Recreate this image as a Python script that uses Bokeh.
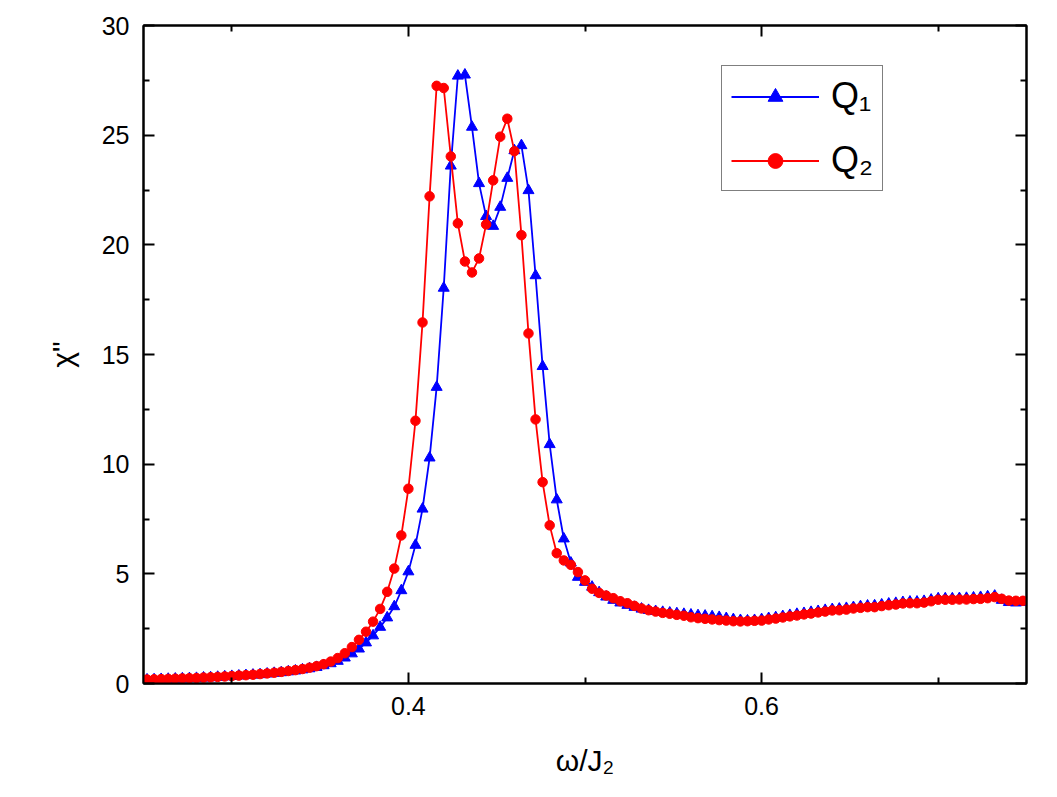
from bokeh.plotting import figure
from bokeh.models import LinearAxis, Range1d, FixedTicker, Legend
from bokeh.embed import file_html
from bokeh.resources import INLINE

omega = [0.252, 0.256, 0.260, 0.264, 0.268, 0.272, 0.276, 0.280, 0.284, 0.288,
         0.292, 0.296, 0.300, 0.304, 0.308, 0.312, 0.316, 0.320, 0.324, 0.328,
         0.332, 0.336, 0.340, 0.344, 0.348, 0.352, 0.356, 0.360, 0.364, 0.368,
         0.372, 0.376, 0.380, 0.384, 0.388, 0.392, 0.396, 0.400, 0.404, 0.408,
         0.412, 0.416, 0.420, 0.424, 0.428, 0.432, 0.436, 0.440, 0.444, 0.448,
         0.452, 0.456, 0.460, 0.464, 0.468, 0.472, 0.476, 0.480, 0.484, 0.488,
         0.492, 0.496, 0.500, 0.504, 0.508, 0.512, 0.516, 0.520, 0.524, 0.528,
         0.532, 0.536, 0.540, 0.544, 0.548, 0.552, 0.556, 0.560, 0.564, 0.568,
         0.572, 0.576, 0.580, 0.584, 0.588, 0.592, 0.596, 0.600, 0.604, 0.608,
         0.612, 0.616, 0.620, 0.624, 0.628, 0.632, 0.636, 0.640, 0.644, 0.648,
         0.652, 0.656, 0.660, 0.664, 0.668, 0.672, 0.676, 0.680, 0.684, 0.688,
         0.692, 0.696, 0.700, 0.704, 0.708, 0.712, 0.716, 0.720, 0.724, 0.728,
         0.732, 0.736, 0.740, 0.744, 0.748]

chi_q2 = [0.18, 0.19, 0.20, 0.21, 0.22, 0.23, 0.24, 0.25, 0.27, 0.28,
          0.30, 0.32, 0.34, 0.36, 0.38, 0.40, 0.43, 0.46, 0.49, 0.53,
          0.57, 0.61, 0.66, 0.72, 0.79, 0.88, 1.00, 1.16, 1.38, 1.66,
          1.99, 2.36, 2.82, 3.40, 4.18, 5.24, 6.75, 8.88, 11.98, 16.46,
          22.21, 27.25, 27.15, 24.03, 20.98, 19.24, 18.74, 19.38, 20.93, 22.94,
          24.93, 25.75, 24.27, 20.44, 15.96, 12.04, 9.18, 7.21, 5.94, 5.61,
          5.41, 5.08, 4.70, 4.32, 4.13, 4.01, 3.89, 3.75, 3.66, 3.54,
          3.42, 3.34, 3.28, 3.22, 3.18, 3.13, 3.09, 3.02, 2.98, 2.95,
          2.92, 2.89, 2.87, 2.84, 2.83, 2.84, 2.86, 2.87, 2.92, 2.96,
          3.01, 3.06, 3.10, 3.15, 3.19, 3.24, 3.28, 3.33, 3.34, 3.37,
          3.42, 3.45, 3.48, 3.48, 3.53, 3.57, 3.60, 3.65, 3.66, 3.66,
          3.69, 3.75, 3.82, 3.82, 3.82, 3.83, 3.83, 3.85, 3.86, 3.89,
          3.94, 3.86, 3.78, 3.77, 3.77]

chi_q1 = [0.17, 0.18, 0.19, 0.20, 0.21, 0.22, 0.23, 0.24, 0.26, 0.27,
          0.29, 0.31, 0.33, 0.35, 0.37, 0.39, 0.41, 0.44, 0.47, 0.50,
          0.54, 0.58, 0.63, 0.68, 0.74, 0.82, 0.91, 1.02, 1.17, 1.36,
          1.58, 1.86, 2.18, 2.57, 3.00, 3.51, 4.24, 5.10, 6.31, 7.96,
          10.29, 13.51, 18.03, 23.60, 27.70, 27.75, 25.37, 22.80, 21.30, 20.85,
          21.72, 23.04, 24.30, 24.53, 22.48, 18.60, 14.46, 10.90, 8.38, 6.60,
          5.50, 4.85, 4.62, 4.40, 4.15, 3.95, 3.80, 3.68, 3.57, 3.48,
          3.40, 3.34, 3.29, 3.25, 3.22, 3.19, 3.16, 3.13, 3.10, 3.08,
          3.05, 3.02, 2.97, 2.92, 2.88, 2.86, 2.88, 2.92, 2.97, 3.01,
          3.06, 3.11, 3.16, 3.20, 3.25, 3.29, 3.34, 3.38, 3.40, 3.43,
          3.47, 3.51, 3.54, 3.55, 3.59, 3.63, 3.66, 3.70, 3.72, 3.72,
          3.75, 3.81, 3.87, 3.87, 3.87, 3.88, 3.89, 3.91, 3.93, 3.96,
          3.99, 3.80, 3.70, 3.68, 3.70]

x_major = [0.4, 0.6]
x_minor = [0.3, 0.5, 0.7]
y_major = [0, 5, 10, 15, 20, 25, 30]
y_minor = [2.5, 7.5, 12.5, 17.5, 22.5, 27.5]

FONT = "Liberation Sans"

p = figure(width=1040, height=780, output_backend="svg", toolbar_location=None,
           x_range=Range1d(0.25, 0.75), y_range=Range1d(0, 30),
           min_border_left=143, min_border_top=25, min_border_right=14,
           min_border_bottom=97)
p.background_fill_color = "white"
p.border_fill_color = "white"
p.outline_line_color = "black"
p.outline_line_width = 2
p.xgrid.visible = False
p.ygrid.visible = False


def style_axis(ax, ticks_major, ticks_minor, show_labels):
    ax.ticker = FixedTicker(ticks=ticks_major, minor_ticks=ticks_minor)
    ax.axis_line_width = 2
    ax.axis_line_color = "black"
    ax.major_tick_in = 11
    ax.major_tick_out = 0
    ax.minor_tick_in = 6
    ax.minor_tick_out = 0
    ax.major_tick_line_width = 2
    ax.minor_tick_line_width = 2
    ax.major_tick_line_color = "black"
    ax.minor_tick_line_color = "black"
    if show_labels:
        ax.major_label_text_font = FONT
        ax.major_label_text_font_size = "25px"
        ax.major_label_text_color = "black"
    else:
        ax.major_label_text_font_size = "0px"
        ax.major_label_text_color = None


xa = p.xaxis[0]
ya = p.yaxis[0]
style_axis(xa, x_major, x_minor, True)
style_axis(ya, y_major, y_minor, True)
xa.major_label_standoff = 13
ya.major_label_standoff = 14

xa.axis_label = "ω/J₂"
xa.axis_label_text_font = FONT
xa.axis_label_text_font_size = "30px"
xa.axis_label_text_font_style = "normal"
xa.axis_label_text_color = "black"
xa.axis_label_standoff = 26

ya.axis_label = 'χ"'
ya.axis_label_text_font = FONT
ya.axis_label_text_font_size = "30px"
ya.axis_label_text_font_style = "normal"
ya.axis_label_text_color = "black"
ya.axis_label_standoff = 20

top = LinearAxis()
style_axis(top, x_major, x_minor, False)
p.add_layout(top, "above")
right = LinearAxis()
style_axis(right, y_major, y_minor, False)
p.add_layout(right, "right")

l1 = p.line(omega, chi_q1, line_color="#0000FF", line_width=1.8)
s1 = p.scatter(omega, chi_q1, marker="triangle", size=11, fill_color="#0000FF",
               line_color="#0000FF")
l2 = p.line(omega, chi_q2, line_color="#FF0000", line_width=1.8)
s2 = p.scatter(omega, chi_q2, marker="circle", size=9.5, fill_color="#FF0000",
               line_color="#FF0000")

legend = Legend(items=[("Q₁", [l1, s1]), ("Q₂", [l2, s2])],
                location=(578, 492))
legend.label_text_font = FONT
legend.label_text_font_size = "36px"
legend.label_text_color = "black"
legend.glyph_width = 88
legend.glyph_height = 37
legend.label_height = 37
legend.label_standoff = 12
legend.spacing = 22
legend.padding = 9
legend.margin = 0
legend.border_line_color = "black"
legend.border_line_width = 1.5
legend.background_fill_color = "white"
legend.background_fill_alpha = 1.0
p.add_layout(legend, "center")

open("out.html", "w").write(file_html(p, INLINE))
